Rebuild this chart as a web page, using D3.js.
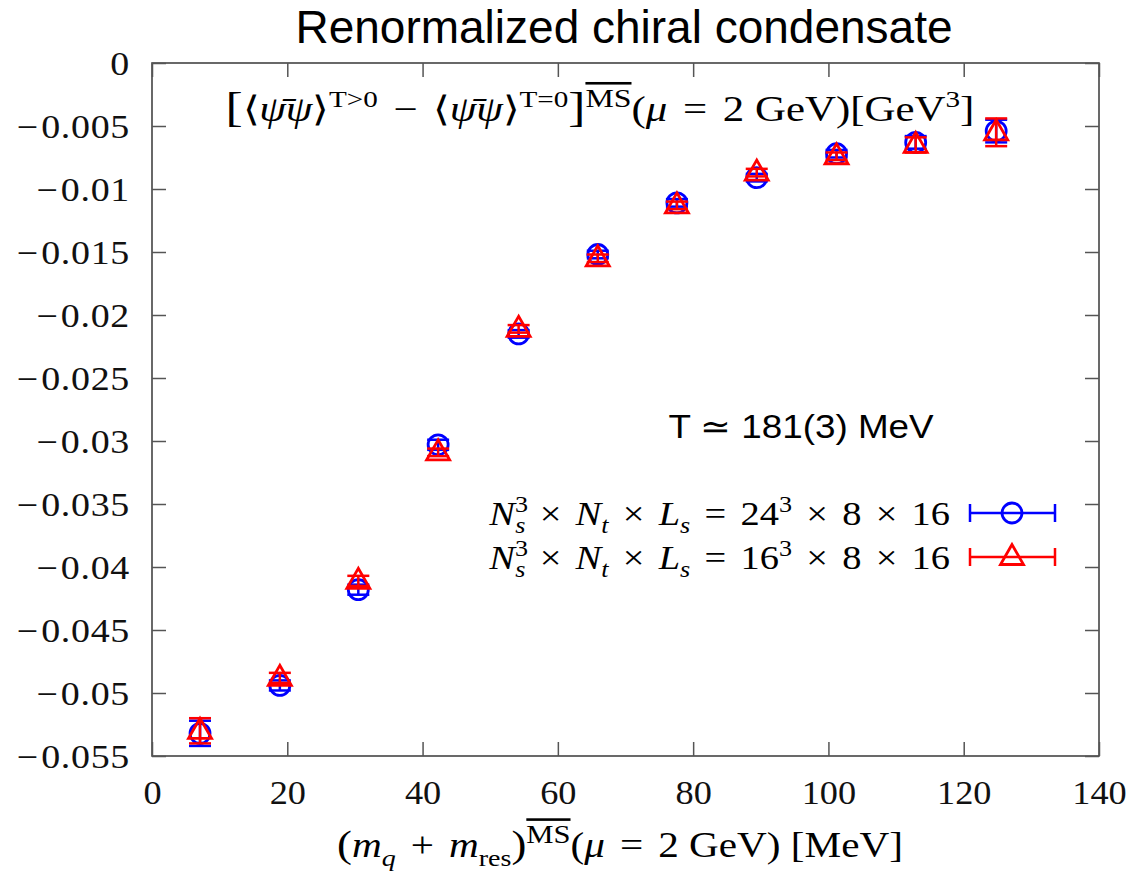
<!DOCTYPE html>
<html lang="en">
<head>
<meta charset="UTF-8">
<script src="https://d3js.org/d3.v7.min.js"></script>
<title>Renormalized chiral condensate</title>
<style>
    body { margin: 0; background: #fff; }
    svg { display: block; }
    .serif { font-family: 'Liberation Serif', 'Times New Roman', serif; }
    .sans { font-family: 'Liberation Sans', Arial, sans-serif; }
    .axis path { display: none; }
    .axis line { stroke: #555; stroke-width: 1.5; }
</style>
</head>
<body>
<svg id="canvas" width="1132" height="872"></svg>
<script>
// values
let mass = [7.1, 18.9, 30.5, 42.3, 54.2, 65.9, 77.6, 89.4, 101.2, 112.9, 124.8]
let cond24 = [-0.0532, -0.0494, -0.0418, -0.0303, -0.0215, -0.0152, -0.0111, -0.0091, -0.0072, -0.0063, -0.0054]
let err24 = [0.0010, 0.0004, 0.0004, 0.0004, 0.0003, 0.0003, 0.0003, 0.0003, 0.0003, 0.0005, 0.0009]
let cond16 = [-0.0530, -0.0488, -0.0411, -0.0309, -0.0211, -0.0155, -0.0113, -0.0087, -0.0074, -0.0065, -0.0055]
let err16 = [0.0010, 0.0004, 0.0004, 0.0003, 0.0003, 0.0003, 0.0003, 0.0003, 0.0003, 0.0006, 0.0011]

let xTickValues = [0, 20, 40, 60, 80, 100, 120, 140]
let yTickValues = [0, -0.005, -0.01, -0.015, -0.02, -0.025, -0.03, -0.035, -0.04, -0.045, -0.05, -0.055]
let yTickLabels = ['0', '−0.005', '−0.01', '−0.015', '−0.02', '−0.025', '−0.03', '−0.035', '−0.04', '−0.045', '−0.05', '−0.055']

let mLeft = 152, mRight = 1099, mTop = 63, mBottom = 756
let sx = 1.1   // the tex font is a bit wider than Liberation Serif

let canvas = d3.select('#canvas')

let x = d3.scaleLinear().domain([0, 140]).range([mLeft, mRight])
let y = d3.scaleLinear().domain([-0.055, 0]).range([mBottom, mTop])

// rich text helper: segments of {t, i (italic), s (shift: 1 sup, -1 sub), fs, o (overline), pad (space round an operator)}
let rich = (sel, segs, size) => {
    let level = 0
    let carry = 0
    let off = l => l === 1 ? -0.4 * size : l === -1 ? 0.25 * size : 0
    segs.forEach(seg => {
        let shift = seg.s || 0
        let dy = off(shift) - off(level)
        level = shift
        let ts = sel.append('tspan').text(seg.t)
            .attr('dy', dy)
            .attr('font-size', seg.fs || (shift !== 0 ? size * 0.68 : size))
        if (seg.i) ts.attr('font-style', 'italic')
        if (seg.o) ts.style('text-decoration', 'overline')
        let dx = (seg.dx || 0) + carry + (seg.pad || 0)
        if (dx) ts.attr('dx', dx)
        carry = seg.pad || 0
    })
}

// a text inside a group, widened so it takes the width it has in the picture
let fitted = (cx, cy, anchor, cls) => {
    let g = canvas.append('g')
    let t = g.append('text').attr('class', cls).attr('x', 0).attr('y', 0)
        .attr('text-anchor', anchor).attr('fill', '#000')
    return {g: g, t: t, fit: w => {
        let k = w / t.node().getBBox().width
        g.attr('transform', `translate(${cx},${cy}) scale(${k},1)`)
    }}
}

// frame
canvas.append('rect')
    .attr('x', mLeft).attr('y', mTop)
    .attr('width', mRight - mLeft).attr('height', mBottom - mTop)
    .attr('fill', 'none').attr('stroke', '#444').attr('stroke-width', 1.6)

// axes with inward ticks
let xAxis = canvas.append('g').attr('class', 'axis serif')
    .attr('transform', `translate(0,${mBottom})`)
    .call(d3.axisBottom(x).tickValues(xTickValues).tickSizeInner(-14).tickSizeOuter(0).tickFormat(d3.format('d')))
xAxis.selectAll('text').attr('y', 48).attr('dy', 0).attr('font-size', 33)
    .attr('fill', '#111').attr('transform', `scale(${sx},1)`)

let yAxis = canvas.append('g').attr('class', 'axis serif')
    .attr('transform', `translate(${mLeft},0)`)
    .call(d3.axisLeft(y).tickValues(yTickValues).tickSizeInner(-14).tickSizeOuter(0).tickFormat(''))
yAxis.selectAll('.tick text').each(function (d, i) {
    let label = yTickLabels[i]
    let t = d3.select(this).attr('x', -22 / 1.15).attr('dy', '0.34em').attr('font-size', 33)
        .attr('fill', '#111').attr('transform', 'scale(1.15,1)')
        .style('letter-spacing', '0.6px')
    if (label.startsWith('−')) {
        t.append('tspan').text('−')
        t.append('tspan').attr('dx', 2).text(label.slice(1))
    } else {
        t.text(label)
    }
})

canvas.append('g').attr('class', 'axis')
    .attr('transform', `translate(0,${mTop})`)
    .call(d3.axisTop(x).tickValues(xTickValues).tickSizeInner(-14).tickSizeOuter(0).tickFormat(''))
canvas.append('g').attr('class', 'axis')
    .attr('transform', `translate(${mRight},0)`)
    .call(d3.axisRight(y).tickValues(yTickValues).tickSizeInner(-14).tickSizeOuter(0).tickFormat(''))

// title
canvas.append('text').attr('class', 'sans')
    .attr('x', 624).attr('y', 43).attr('text-anchor', 'middle')
    .attr('font-size', 46).attr('fill', '#000')
    .text('Renormalized chiral condensate')

// formula at top
let formula = fitted(600, 121, 'middle', 'serif')
rich(formula.t, [
    {t: '[', fs: 42}, {t: '⟨'}, {t: 'ψ̄ψ', i: true}, {t: '⟩'}, {t: 'T>0', s: 1},
    {t: ' − ', pad: 4}, {t: '⟨'}, {t: 'ψ̄ψ', i: true}, {t: '⟩'}, {t: 'T=0', s: 1},
    {t: ']', fs: 42}, {t: 'MS', s: 1, o: true, fs: 26},
    {t: '('}, {t: 'μ', i: true}, {t: ' = ', pad: 4}, {t: '2 GeV)[GeV'}, {t: '3', s: 1}, {t: ']'}
], 35)
formula.fit(752)

// T label
let tLabel = fitted(801, 438, 'middle', 'sans')
tLabel.t.attr('font-size', 33).text('T ≃ 181(3) MeV')
tLabel.fit(266)

// x label
let xlabel = fitted(620, 857, 'middle', 'serif')
rich(xlabel.t, [
    {t: '(', fs: 38}, {t: 'm', i: true}, {t: 'q', i: true, s: -1}, {t: ' + ', pad: 4}, {t: 'm', i: true}, {t: 'res', s: -1},
    {t: ')', fs: 38}, {t: 'MS', s: 1, o: true, fs: 26}, {t: '('}, {t: 'μ', i: true}, {t: ' = ', pad: 4},
    {t: '2 GeV) [MeV]'}
], 35)
xlabel.fit(566)

// series
let series = [
    {vals: cond24, errs: err24, color: '#0000ff', shape: 'circle', label: '24'},
    {vals: cond16, errs: err16, color: '#ff0000', shape: 'triangle', label: '16'}
]

let cap = 11
let tri = 'M0,-12.5L-11.5,7.5L11.5,7.5Z'

let drawMarker = (g, shape, color) => {
    if (shape === 'circle') {
        g.append('circle').attr('r', 10).attr('fill', 'none')
            .attr('stroke', color).attr('stroke-width', 2.8)
    } else {
        g.append('path').attr('d', tri).attr('fill', 'none')
            .attr('stroke', color).attr('stroke-width', 2.8).attr('stroke-linejoin', 'miter')
    }
}

series.forEach(s => {
    let g = canvas.append('g')
    s.vals.forEach((v, i) => {
        let px = x(mass[i])
        let y1 = y(v + s.errs[i]), y2 = y(v - s.errs[i])
        let eb = g.append('g').attr('stroke', s.color).attr('stroke-width', 2.5)
        eb.append('line').attr('x1', px).attr('x2', px).attr('y1', y1).attr('y2', y2)
        eb.append('line').attr('x1', px - cap).attr('x2', px + cap).attr('y1', y1).attr('y2', y1)
        eb.append('line').attr('x1', px - cap).attr('x2', px + cap).attr('y1', y2).attr('y2', y2)
        let m = g.append('g').attr('transform', `translate(${px},${y(v)})`)
        drawMarker(m, s.shape, s.color)
    })
})

// legend
let legendRows = [513, 557]
series.forEach((s, k) => {
    let ly = legendRows[k]
    let lt = fitted(950, ly + 12, 'end', 'serif')
    rich(lt.t, [
        {t: 'N', i: true}, {t: '3', s: 1}, {t: 's', i: true, s: -1, dx: -11},
        {t: ' × ', pad: 4}, {t: 'N', i: true}, {t: 't', i: true, s: -1}, {t: ' × ', pad: 4},
        {t: 'L', i: true}, {t: 's', i: true, s: -1}, {t: ' = ', pad: 4}, {t: s.label}, {t: '3', s: 1},
        {t: ' × ', pad: 4}, {t: '8'}, {t: ' × ', pad: 4}, {t: '16'}
    ], 33)
    lt.fit(462)
    let g = canvas.append('g').attr('stroke', s.color).attr('stroke-width', 2.5)
    g.append('line').attr('x1', 970).attr('x2', 1055).attr('y1', ly).attr('y2', ly)
    g.append('line').attr('x1', 970).attr('x2', 970).attr('y1', ly - 9).attr('y2', ly + 9)
    g.append('line').attr('x1', 1055).attr('x2', 1055).attr('y1', ly - 9).attr('y2', ly + 9)
    let m = canvas.append('g').attr('transform', `translate(1012,${ly})`)
    drawMarker(m, s.shape, s.color)
})
</script>
</body>
</html>
